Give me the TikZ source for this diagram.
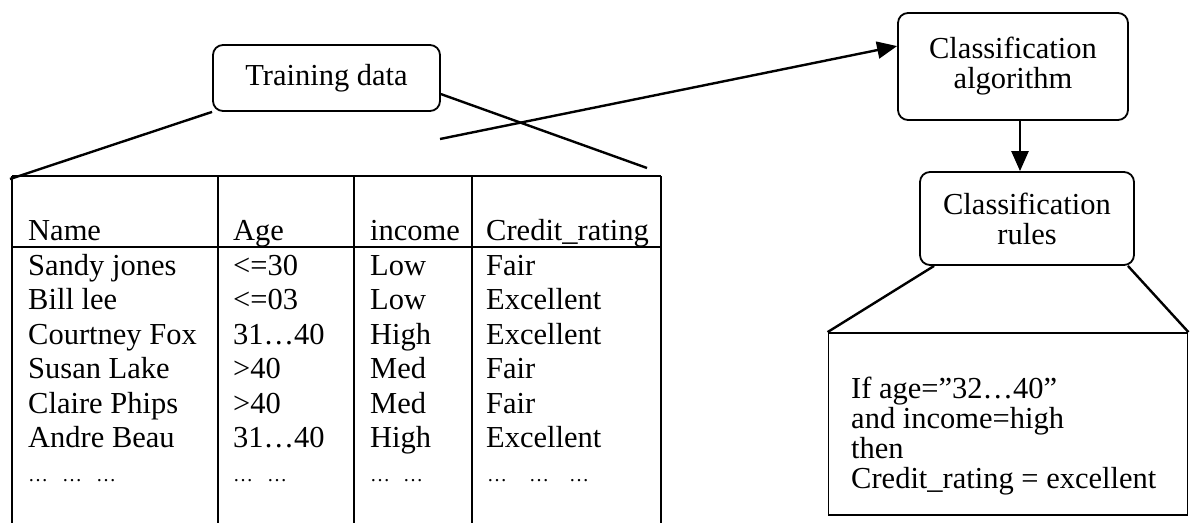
\documentclass[tikz,border=0pt]{standalone}
\usepackage{fontspec}
\setmainfont{Liberation Serif}
\usetikzlibrary{arrows.meta,calc}
\begin{document}
\begin{tikzpicture}[x=1pt,y=-1pt,
  rbox/.style={draw, line width=1.8pt, rounded corners=10pt, inner sep=0pt, align=center,
    font=\fontsize{30.5}{30}\selectfont},
  conn/.style={line width=2.4pt},
  arr/.style={conn, -{Triangle[length=20pt,width=17pt]}},
  tline/.style={line width=1.4pt},
  cell/.style={anchor=base west, inner sep=0pt, font=\fontsize{30.5}{35}\selectfont},
  dcell/.style={anchor=base west, inner sep=0pt, font=\fontsize{20}{24}\selectfont},
  rtext/.style={anchor=base west, inner sep=0pt, font=\fontsize{30.5}{29}\selectfont}]
\useasboundingbox (0,0) rectangle (1190,522);

% boxes
\node[rbox, minimum width=227pt, minimum height=66pt] (train) at (326.5,78) {Training data};
\node[rbox, minimum width=230pt, minimum height=107pt] (alg) at (1013,66.5) {Classification\\algorithm};
\node[rbox, minimum width=214pt, minimum height=93pt] (rules) at (1027,218.5) {Classification\\rules};
\node[draw, line width=1.8pt, minimum width=359pt, minimum height=182pt, inner sep=0pt] (rulebox) at (1008,424) {};

% table frame
\coordinate (tl) at (12,176);
\coordinate (tr) at (661,176);
\coordinate (tlc) at (10,179);
\coordinate (trc) at (647,168);
\draw[tline] (tl) -- (tr);
\draw[tline] (tl) -- (12,524);
\draw[tline] (218,176) -- (218,524);
\draw[tline] (354,176) -- (354,524);
\draw[tline] (472,176) -- (472,524);
\draw[tline] (tr) -- (661,524);
\draw[tline] (12,247) -- (661,247);

% table text
\foreach \yy/\a/\b/\c/\d [count=\i] in {
  240/Name/Age/income/Credit\_rating,
  275/Sandy jones/<=30/Low/Fair,
  309.5/Bill lee/<=03/Low/Excellent,
  344/Courtney Fox/31…40/High/Excellent,
  378.5/Susan Lake/>40/Med/Fair,
  413/Claire Phips/>40/Med/Fair,
  447.5/Andre Beau/31…40/High/Excellent}{
  \node[cell] (na\i) at (28,\yy) {\a};
  \node[cell] (ag\i) at (233,\yy) {\b};
  \node[cell] (in\i) at (370,\yy) {\c};
  \node[cell] (cr\i) at (486,\yy) {\d};
}
\node[dcell] (dna) at (28,481) {…\hspace{14pt}…\hspace{14pt}…};
\node[dcell] (dag) at (233,481) {…\hspace{14pt}…};
\node[dcell] (din) at (370,481) {…\hspace{13pt}…};
\node[dcell] (dcr) at (487,481) {…\hspace{22pt}…\hspace{20pt}…};

% connectors
\draw[conn] (train.south west) -- (tlc);
\draw[conn] (train.-8) -- (trc);
\coordinate (astart) at (440,139);
\draw[arr] (astart) -- (alg.170);
\draw[arr] ([xshift=7pt]alg.south) -- ([xshift=-7pt]rules.north);
\draw[conn] ([xshift=15pt]rules.south west) -- (rulebox.north west);
\draw[conn] ([xshift=-7pt]rules.south east) -- (rulebox.north east);

% rule text
\node[rtext] (r1) at (851,398) {If age=”32…40”};
\node[rtext] (r2) at (851,428) {and income=high};
\node[rtext] (r3) at (851,458) {then};
\node[rtext] (r4) at (851,488) {Credit\_rating = excellent};
\end{tikzpicture}
\end{document}
